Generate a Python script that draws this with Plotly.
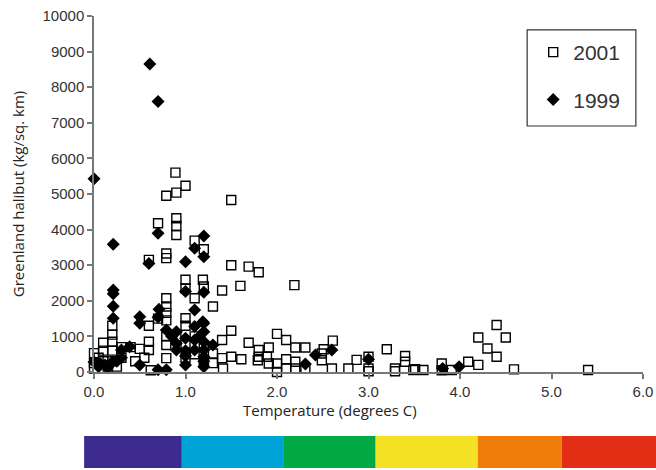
import plotly.graph_objects as go

# ---- data: 2001 survey (open squares) ----
t2001 = [0.0, 0.0, 0.0, 0.05, 0.1, 0.1, 0.1, 0.15, 0.2, 0.2, 0.2, 0.2, 0.2, 0.25, 0.3, 0.3, 0.4, 0.5, 0.45,
         0.6, 0.6, 0.6, 0.6, 0.62, 0.55, 0.7, 0.7,
         0.79, 0.79, 0.79, 0.79, 0.79, 0.79, 0.79, 0.79, 0.79, 0.79,
         0.89, 0.9, 0.9, 0.9, 0.9, 0.9,
         1.0, 1.0, 1.0, 1.0, 1.0, 1.0, 1.0,
         1.1, 1.1, 1.1, 1.1,
         1.2, 1.19, 1.2, 1.2, 1.2,
         1.3, 1.3, 1.3,
         1.4, 1.4, 1.4, 1.41,
         1.5, 1.5, 1.5, 1.5,
         1.6, 1.61, 1.69, 1.69,
         1.8, 1.8, 1.8, 1.79,
         1.89, 1.91, 1.91,
         2.0, 2.0, 2.0,
         2.1, 2.1, 2.1,
         2.19, 2.2, 2.2, 2.2,
         2.31, 2.31,
         2.49, 2.51, 2.49,
         2.61, 2.6, 2.78, 2.87, 3.0, 3.0, 3.0,
         3.2, 3.29, 3.29,
         3.4, 3.4, 3.51, 3.49, 3.6,
         3.8, 3.8, 3.91,
         4.09, 4.2, 4.2, 4.3, 4.4, 4.4, 4.5, 4.59, 5.4]
b2001 = [530, 250, 100, 400, 820, 600, 300, 150, 1300, 1050, 850, 600, 300, 150, 700, 400, 700, 650, 300,
         3150, 1300, 850, 620, 50, 400, 4180, 1500,
         4950, 3330, 3200, 2070, 1840, 1660, 1450, 1000, 760, 390,
         5600, 5040, 4320, 4100, 3850, 1000,
         5230, 2590, 2350, 1510, 1300, 800, 400,
         3690, 2070, 1000, 500,
         3450, 2590, 2400, 700, 300,
         1840, 520, 250,
         2290, 900, 390, 100,
         4830, 3000, 1160, 430,
         2420, 360, 2960, 820,
         2800, 620, 430, 330,
         430, 690, 240,
         1070, 240, 0,
         900, 360, 100,
         2440, 690, 290, 100,
         690, 100,
         520, 640, 330,
         880, 100, 100, 340, 430, 100, 20,
         640, 100, 20,
         450, 290, 80, 55, 55,
         240, 50, 55,
         290, 970, 200, 660, 1320, 430, 970, 75, 55]

# ---- data: 1999 survey (filled diamonds) ----
t1999 = [0.0, 0.21, 0.21, 0.21, 0.21, 0.21, 0.61, 0.70, 0.70, 0.60, 0.71, 0.7, 0.5, 0.5, 0.79, 0.9,
         1.0, 1.0, 1.1, 1.2, 1.2, 1.2, 1.1, 1.19, 1.1, 1.2, 1.2, 1.0, 1.3, 0.9, 1.0, 1.1, 1.2, 1.2,
         1.0, 1.2, 1.2, 1.2, 0.7, 0.79, 0.5, 0.3, 0.39, 0.0, 0.07, 0.12, 0.2, 0.05, 0.15, 0.25, 0.3,
         2.42, 2.60, 2.31, 3.0, 3.81, 3.99, 1.1, 1.0, 0.9, 0.85, 1.15]
b1999 = [5430, 3590, 2300, 2200, 1850, 1510, 8650, 7600, 3900, 3050, 1760, 1540, 1550, 1370, 1180, 1130,
         3100, 2260, 3475, 3820, 3240, 2240, 1740, 1410, 1280, 1370, 1130, 950, 760, 620, 600, 620, 620, 850,
         200, 430, 150, 300, 60, 60, 200, 620, 710, 280, 230, 200, 280, 150, 120, 300, 400,
         480, 620, 225, 360, 100, 150, 900, 450, 800, 1000, 1000]

x_ticks = [0, 1, 2, 3, 4, 5, 6]
x_tick_labels = ["0.0", "1.0", "2.0", "3.0", "4.0", "5.0", "6.0"]
y_ticks = [0, 1000, 2000, 3000, 4000, 5000, 6000, 7000, 8000, 9000, 10000]
y_tick_labels = [str(v) for v in y_ticks]

# temperature colour band under the chart
band_colors = ["#3D2A8E", "#00A3D5", "#00A944", "#F4E024", "#F07C0A", "#E22E15"]
band_edges = [-0.018, 0.160, 0.346, 0.513, 0.699, 0.852, 1.024]

fig = go.Figure()
fig.add_trace(go.Scatter(
    x=t2001, y=b2001, mode="markers", name="2001", legendgroup="a",
    marker=dict(symbol="square-open", size=9, color="black", line=dict(width=1.4, color="black")),
    cliponaxis=False,
))
fig.add_trace(go.Scatter(
    x=t1999, y=b1999, mode="markers", name="1999", legendgroup="b",
    marker=dict(symbol="diamond", size=10, color="black", line=dict(width=0)),
    cliponaxis=False,
))

for i, c in enumerate(band_colors):
    fig.add_shape(type="rect", xref="paper", yref="paper",
                  x0=band_edges[i], x1=band_edges[i + 1], y0=-0.27, y1=-0.18,
                  fillcolor=c, line=dict(width=0), layer="above")

# legend frame
fig.add_shape(type="rect", xref="paper", yref="paper",
              x0=0.789, x1=0.987, y0=0.691, y1=0.961,
              line=dict(color="#333333", width=1.2), fillcolor="rgba(0,0,0,0)")

# x-axis title (sits left of centre in the original)
fig.add_annotation(text="Temperature (degrees C)", xref="paper", yref="paper",
                   x=0.43, y=-0.107, xanchor="center", yanchor="middle", showarrow=False,
                   font=dict(family="Open Sans", size=15, color="#222222"))

axis_font = dict(family="Liberation Sans, Arial", size=15, color="#333333")
fig.update_layout(
    width=656, height=470,
    margin=dict(l=94, r=13, t=16, b=98, autoexpand=False),
    paper_bgcolor="white", plot_bgcolor="white",
    showlegend=True,
    legend=dict(
        x=0.80, y=0.955, xanchor="left", yanchor="top",
        borderwidth=0, bgcolor="rgba(0,0,0,0)",
        font=dict(family="Liberation Sans, Arial", size=21, color="#333333"),
        traceorder="grouped", tracegroupgap=17,
        itemwidth=30,
    ),
    xaxis=dict(
        range=[0, 6], tickvals=x_ticks, ticktext=x_tick_labels, automargin=False,
        showgrid=False, zeroline=False, showline=True, linecolor="#777777", linewidth=1.5,
        ticks="outside", ticklen=5, tickcolor="#777777", tickwidth=1.5,
        tickfont=axis_font,
    ),
    yaxis=dict(
        range=[0, 10000], tickvals=y_ticks, ticktext=y_tick_labels, automargin=False,
        showgrid=False, zeroline=False, showline=True, linecolor="#777777", linewidth=1.5,
        ticks="outside", ticklen=5, tickcolor="#777777", tickwidth=1.5,
        tickfont=axis_font,
        title=dict(text="Greenland halibut (kg/sq. km)", standoff=14,
                   font=dict(family="Open Sans", size=15, color="#222222")),
    ),
)

fig.write_html("out.html", config={"displayModeBar": False},
               post_script="document.body.style.margin='0';")
